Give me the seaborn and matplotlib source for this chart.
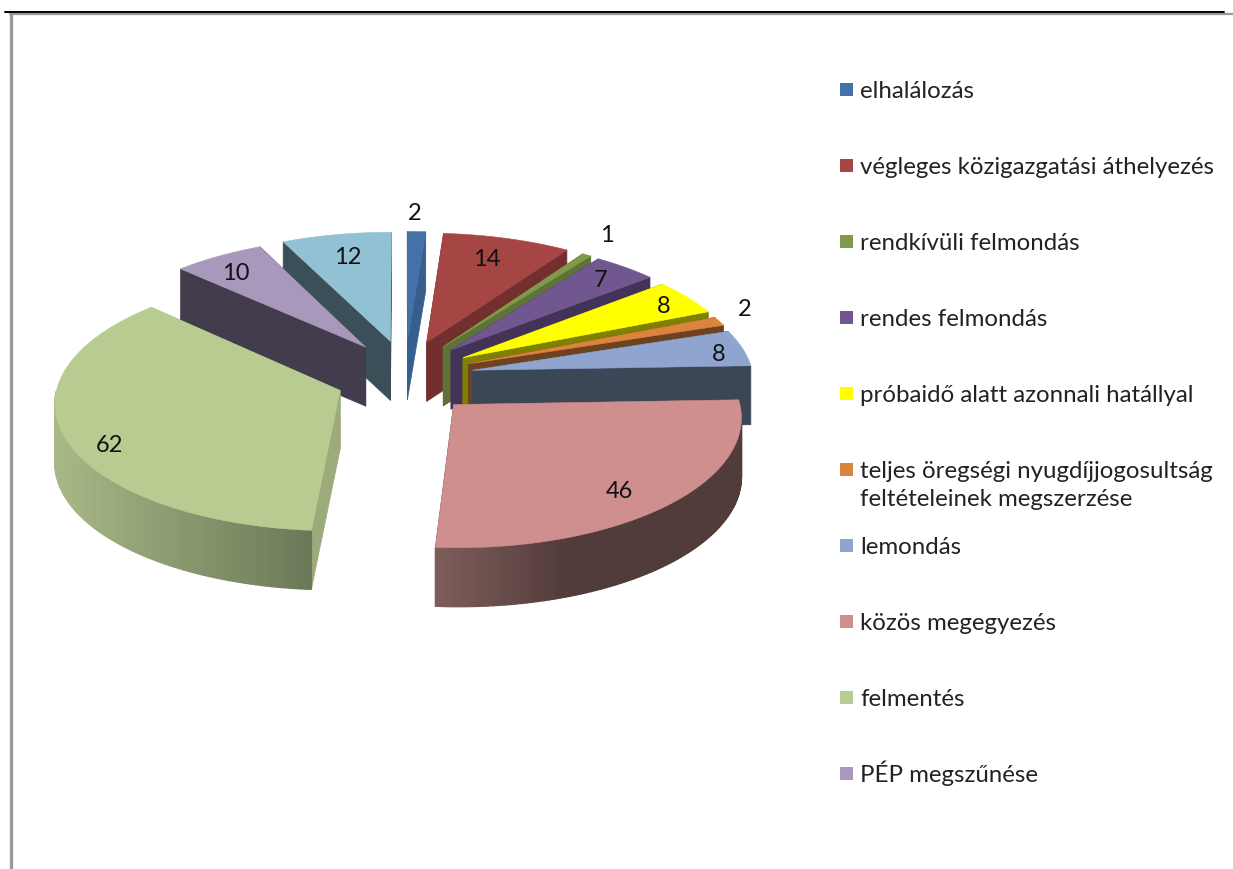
import numpy as np
import matplotlib
matplotlib.use('Agg')
import matplotlib.pyplot as plt
from matplotlib.colors import to_rgb
from matplotlib.patches import Polygon, Rectangle
import seaborn as sns

values = [2, 14, 1, 7, 8, 2, 8, 46, 62, 10, 12]
legend_labels = ['elhalálozás', 'végleges közigazgatási áthelyezés', 'rendkívüli felmondás',
                 'rendes felmondás', 'próbaidő alatt azonnali hatállyal',
                 'teljes öregségi nyugdíjjogosultság\nfeltételeinek megszerzése',
                 'lemondás', 'közös megegyezés', 'felmentés', 'PÉP megszűnése']

top_colors = ['#4371a8', '#a64644', '#80994a', '#71578f', '#ffff00', '#db843d',
              '#8fa5cf', '#cf8f8e', '#b8cc92', '#a898bc', '#92c1d4']
side_colors = ['#365f8e', '#722f2e', '#5f7338', '#433358', '#808000', '#6e4220',
               '#3b4757', '#523b3b', '#9daa7a', '#433c4c', '#3a4f58']
label_radius = [1.17, 0.81, 1.14, 0.81, 0.82, 1.09, 0.88, 0.90, 0.92, 0.80, 0.81]
label_dx = [-3, -6, 1, 7, 15, 3, 8, -27, 22, -10, 2]
label_dy = [-2, 1, -9, -3, -2, -9, 3, -4, 11, -1, 3]

# projection of the tilted disc, in pixels
cx, cy = 405, 378
rx, ry = 281, 125
persp_x, persp_y = 0.085, 0.09
explode_x, explode_y = 0.245, 0.30
depth = 59

sns.set_theme(style='white')
plt.rcParams['font.family'] = ['Lato', 'DejaVu Sans']
top_pal = sns.color_palette(top_colors)

fig = plt.figure(figsize=(12.33, 8.70), dpi=100)
ax = fig.add_axes([0, 0, 1, 1])
ax.set_xlim(0, 1233)
ax.set_ylim(870, 0)
ax.axis('off')


def project(theta, r, mid, z=0):
    # theta runs clockwise from the top, r=1 is the rim
    X = r * np.sin(theta) + explode_x * np.sin(mid)
    Y = -r * np.cos(theta) - explode_y * np.cos(mid)
    return cx + rx * X / (1 - persp_x * Y), cy + ry * Y / (1 - persp_y * Y) + z


def wall_shade(i, frac):
    # the two big slices have a gradient along the rim
    if values[i] == 46:
        stops = [to_rgb('#7c5d59'), to_rgb('#523b3b')]
        t = min(frac / 0.42, 1)
    elif values[i] == 62:
        stops = [to_rgb('#a8b886'), to_rgb('#6a7757')]
        t = frac
    else:
        return side_colors[i]
    return tuple(a + (b - a) * t for a, b in zip(*stops))


total = sum(values)
edges = np.cumsum([0] + values) / total * 2 * np.pi
mids = (edges[:-1] + edges[1:]) / 2
order = np.argsort(np.cos(mids))[::-1]

for i in order:
    a, b, mid = edges[i], edges[i + 1], mids[i]
    t = np.linspace(a, b, max(int(values[i] * 2), 12))
    rimx, rimy = project(t, 1, mid)
    ax0, ay0 = project(mid, 0, mid)

    # radial faces
    for end in (0, -1):
        pts = [(ax0, ay0), (rimx[end], rimy[end]),
               (rimx[end], rimy[end] + depth), (ax0, ay0 + depth)]
        ax.add_patch(Polygon(pts, closed=True, fc=side_colors[i], ec=side_colors[i], lw=0.5, zorder=3))

    # outer wall, only the part facing the viewer
    near = (t >= np.pi / 2) & (t <= 3 * np.pi / 2)
    if near.sum() > 1:
        nx, ny = rimx[near], rimy[near]
        xspan = nx.max() - nx.min()
        for k in range(len(nx) - 1):
            frac = (min(nx[k], nx[k + 1]) - nx.min()) / xspan
            c = wall_shade(i, frac)
            pts = [(nx[k], ny[k]), (nx[k + 1], ny[k + 1]),
                   (nx[k + 1], ny[k + 1] + depth), (nx[k], ny[k] + depth)]
            ax.add_patch(Polygon(pts, closed=True, fc=c, ec=c, lw=1.0, zorder=3))

    # top face
    pts = [(ax0, ay0)] + list(zip(rimx, rimy))
    ax.add_patch(Polygon(pts, closed=True, fc=top_pal[i], ec=top_pal[i], lw=0.4, zorder=3))

# value labels
for i, v in enumerate(values):
    lx, ly = project(mids[i], label_radius[i], mids[i])
    ax.text(lx + label_dx[i], ly + label_dy[i], str(v), fontsize=17, color='#111111',
            ha='center', va='center', zorder=5)

# legend rows, the second line of the long entry hangs below its row
for i, lab in enumerate(legend_labels):
    y = 90 + 76 * i
    ax.add_patch(Rectangle((840, y - 6.5), 13, 13, fc=top_pal[i], ec='none', zorder=4))
    for n, line in enumerate(lab.split('\n')):
        ax.text(860, y + 8 + 28 * n, line, fontsize=17.3, color='#222222', ha='left', va='baseline', zorder=4)

# sheet border left over from the page
ax.plot([5, 1224], [13, 13], color='black', lw=1.4, zorder=6)
ax.plot([10, 1233], [15, 15], color='#999999', lw=1.6, zorder=5)
ax.plot([11, 11], [15, 870], color='#999999', lw=2.4, zorder=5)

fig.savefig('out.png', dpi=100)
